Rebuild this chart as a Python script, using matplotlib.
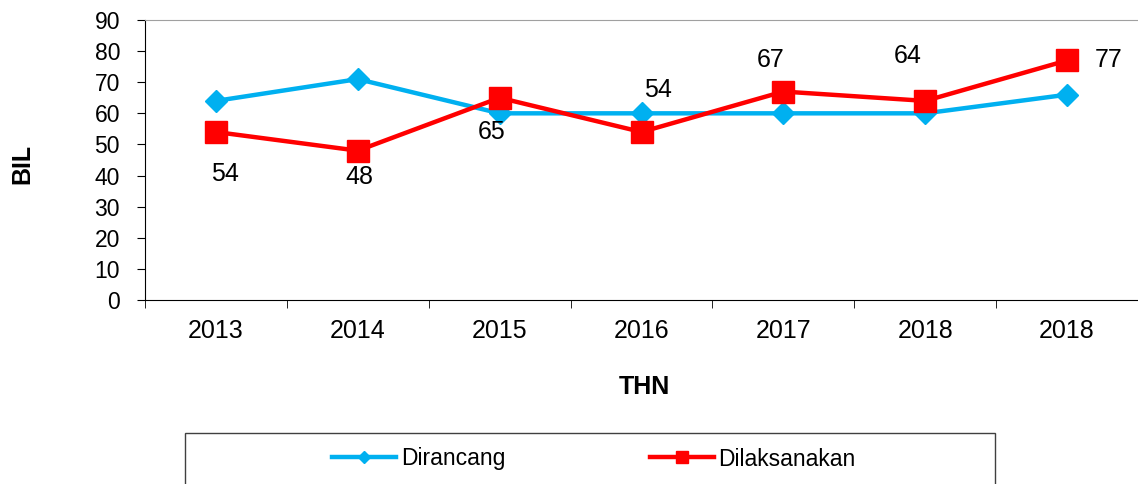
import matplotlib.pyplot as plt
from matplotlib.patches import Rectangle
from matplotlib.lines import Line2D

# data
years = ['2013', '2014', '2015', '2016', '2017', '2018', '2018']
dirancang = [64, 71, 60, 60, 60, 60, 66]
dilaksanakan = [54, 48, 65, 54, 67, 64, 77]

# where each red value label sits relative to its point (pixels)
label_offsets = [(9, -42), (2, -26), (-8, -34), (16, 42), (-13, 32), (-18, 45), (42, 0)]

plt.rcParams['font.family'] = ['Liberation Sans', 'DejaVu Sans']

fig = plt.figure(figsize=(11.38, 4.84), dpi=100)
ax = fig.add_axes([145 / 1138, 1 - 300 / 484, 1 - 145 / 1138, 280 / 484])

x = list(range(len(years)))
ax.plot(x, dirancang, color='#00B0F0', lw=3.2, marker='D', ms=11, label='Dirancang')
ax.plot(x, dilaksanakan, color='#FF0000', lw=3.2, marker='s', ms=16, label='Dilaksanakan')

for i, v in enumerate(dilaksanakan):
    ax.annotate(str(v), (i, v), xytext=label_offsets[i], textcoords='offset pixels',
                ha='center', va='center', fontsize=18)

ax.set_xlim(-0.5, len(years) - 0.5)
ax.set_ylim(0, 90)
ax.set_yticks(range(0, 91, 10))
ax.set_xticks(x)
ax.set_xticklabels(years)
ax.set_xticks([i - 0.5 for i in range(len(years) + 1)], minor=True)
ax.tick_params(axis='x', which='major', length=0, pad=14, labelsize=18)
ax.tick_params(axis='x', which='minor', length=6, direction='out')
ax.tick_params(axis='y', length=6, direction='out', pad=12, labelsize=16.5)

ax.spines['right'].set_visible(False)
ax.spines['top'].set_color('#a0a0a0')
ax.spines['left'].set_color('black')
ax.spines['bottom'].set_color('black')

ax.set_ylabel('BIL', fontsize=18, fontweight='bold')
ax.set_xlabel('THN', fontsize=18, fontweight='bold')
ax.xaxis.label.set_va('center')
ax.yaxis.label.set_va('center')
ax.xaxis.set_label_coords(0.5025, -0.3107)
ax.yaxis.set_label_coords(-0.1239, 0.486)

# legend box at the bottom (runs off the lower edge like the original)
fig.patches.append(Rectangle((185 / 1138, -0.05), 810 / 1138, 0.05 + (484 - 433) / 484,
                             transform=fig.transFigure, fill=False, edgecolor='#404040', lw=1))
handles = [Line2D([], [], color='#00B0F0', lw=3.2, marker='D', ms=6),
           Line2D([], [], color='#FF0000', lw=3.2, marker='s', ms=8)]
fig.legend(handles, ['Dirancang', 'Dilaksanakan'], loc='center', bbox_to_anchor=(0.522, 1 - 459 / 484),
           ncol=2, frameon=False, fontsize=16.5, handlelength=2.8, columnspacing=6.3, handletextpad=0.2)

fig.savefig('out.png', dpi=100)
